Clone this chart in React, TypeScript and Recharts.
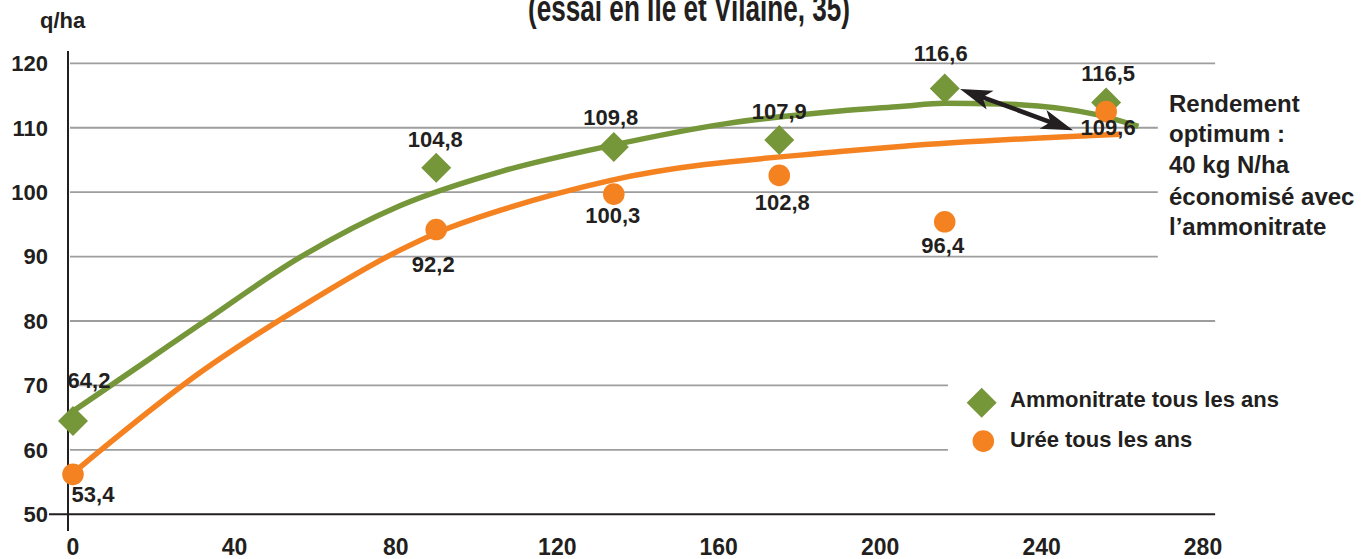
import { ComposedChart, Legend, Line, ReferenceLine, Scatter, XAxis, YAxis } from "recharts";

// doses d'azote (kg N/ha) et rendements (q/ha)
const DOSES = [0, 90, 134, 175, 216, 256];
const AMMONITRATE = [64.5, 103.8, 107.0, 108.1, 116.1, 113.9];
const UREE = [56.2, 94.2, 99.7, 102.6, 95.4, 112.5];
const AMMONITRATE_LABELS = ["64,2", "104,8", "109,8", "107,9", "116,6", "116,5"];
const UREE_LABELS = ["53,4", "92,2", "100,3", "102,8", "96,4", "109,6"];

// courbes de tendance, points lus le long des tracés
const TREND_AMMO_X = [0, 18, 31.5, 56, 81, 106, 133, 161.5, 190, 205, 216, 230, 254, 264];
const TREND_AMMO_Y = [66.0, 73.7, 79.5, 89.8, 97.9, 103.2, 107.2, 110.6, 112.6, 113.3, 113.8, 113.7, 112.0, 110.2];
const TREND_UREE_X = [0, 31.5, 56, 81, 91, 106, 133, 190, 205, 259.5];
const TREND_UREE_Y = [56.4, 72.0, 82.0, 91.0, 93.9, 97.2, 101.8, 106.3, 107.1, 109.0];

const X_TICKS = [0, 40, 80, 120, 160, 200, 240, 280];
const Y_TICKS = [50, 60, 70, 80, 90, 100, 110, 120];

const NAME_AMMO = "Ammonitrate tous les ans";
const NAME_UREE = "Urée tous les ans";

// flèche "rendement optimum" (coordonnées en données)
const ARROW_FROM = { x: 219.8, y: 116.0 };
const ARROW_TO = { x: 247.8, y: 109.6 };

const GREEN = "#76963a";
const ORANGE = "#f58220";
const TEXT = "#231f20";
const GRID = "#9d9d9d";
const FONT = '"Liberation Sans", Arial, Helvetica, sans-serif';

// longueur des lignes de quadrillage (coupées par la légende / l'annotation)
const GRID_END: Record<number, number> = { 120: 283, 110: 268.8, 100: 268.8, 90: 268.8, 80: 283, 70: 216.8, 60: 216.8 };

// décalage des étiquettes (dx, dy) par point
const AMMO_LABEL_NUDGE = [[16, -33], [-1, -21], [-3, -22], [0, -21], [-4, -27], [2, -22]];
const UREE_LABEL_NUDGE = [[20, 28], [-3, 42], [-1, 29], [3, 35], [-2, 31], [2, 23]];

const ammoRows = DOSES.map((x, i) => ({ x, y: AMMONITRATE[i], label: AMMONITRATE_LABELS[i], i }));
const ureeRows = DOSES.map((x, i) => ({ x, y: UREE[i], label: UREE_LABELS[i], i }));
const ammoTrend = TREND_AMMO_X.map((x, i) => ({ x, y: TREND_AMMO_Y[i] }));
const ureeTrend = TREND_UREE_X.map((x, i) => ({ x, y: TREND_UREE_Y[i] }));

const labelStyle = { fontFamily: FONT, fontSize: 22, fontWeight: 700, fill: TEXT };

function diamondPoints(cx: number, cy: number, r: number) {
  return `${cx},${cy - r} ${cx + r},${cy} ${cx},${cy + r} ${cx - r},${cy}`;
}

function AmmoShape(props: any) {
  const { cx, cy, payload } = props;
  const [dx, dy] = AMMO_LABEL_NUDGE[payload.i];
  return (
    <g>
      <polygon points={diamondPoints(cx, cy, 15)} fill={GREEN} />
      <text x={cx + dx} y={cy + dy} textAnchor="middle" {...labelStyle}>
        {payload.label}
      </text>
    </g>
  );
}

function UreeShape(props: any) {
  const { cx, cy, payload } = props;
  const [dx, dy] = UREE_LABEL_NUDGE[payload.i];
  return (
    <g>
      <circle cx={cx} cy={cy} r={10.8} fill={ORANGE} />
      <text x={cx + dx} y={cy + dy} textAnchor="middle" {...labelStyle}>
        {payload.label}
      </text>
    </g>
  );
}

function ArrowShape(props: any) {
  const { x1, y1, x2, y2 } = props;
  const len = Math.hypot(x2 - x1, y2 - y1);
  const ux = (x2 - x1) / len;
  const uy = (y2 - y1) / len;
  const nx = -uy;
  const ny = ux;
  const L = 32;
  const W = 10;
  const head = (tx: number, ty: number, s: number) => {
    const bx = tx + s * ux * L;
    const by = ty + s * uy * L;
    const mx = tx + s * ux * (L - 8);
    const my = ty + s * uy * (L - 8);
    return `${tx},${ty} ${bx + nx * W},${by + ny * W} ${mx},${my} ${bx - nx * W},${by - ny * W}`;
  };
  return (
    <g>
      <line
        x1={x1 + ux * (L - 10)}
        y1={y1 + uy * (L - 10)}
        x2={x2 - ux * (L - 10)}
        y2={y2 - uy * (L - 10)}
        stroke={TEXT}
        strokeWidth={4.5}
      />
      <polygon points={head(x1, y1, 1)} fill={TEXT} />
      <polygon points={head(x2, y2, -1)} fill={TEXT} />
    </g>
  );
}

function LegendContent({ payload }: any) {
  const items = (payload ?? []).filter((entry: any) => entry.value === NAME_AMMO || entry.value === NAME_UREE);
  return (
    <svg width={330} height={84} style={{ display: "block" }}>
      {items.map((entry: any, i: number) => {
        const cy = 22.7 + i * 38.4;
        return (
          <g key={entry.value}>
            {entry.value === NAME_AMMO ? (
              <polygon points={diamondPoints(21.7, cy, 15)} fill={GREEN} />
            ) : (
              <circle cx={23.3} cy={cy} r={10.8} fill={ORANGE} />
            )}
            <text x={50} y={26.7 + i * 40.6} {...labelStyle}>
              {entry.value}
            </text>
          </g>
        );
      })}
    </svg>
  );
}

export default function App() {
  return (
    <div style={{ position: "absolute", left: 0, top: 0, width: 1369, height: 559, background: "#fff" }}>
      <ComposedChart width={1369} height={559} margin={{ top: 51, right: 154, bottom: 0, left: 0 }}>
        <XAxis
          type="number"
          dataKey="x"
          domain={[-1.24, 282.97]}
          ticks={X_TICKS}
          axisLine={false}
          tickLine={false}
          height={28}
          tickMargin={2}
          tick={{ fill: TEXT, fontSize: 23, fontWeight: 700, fontFamily: FONT }}
        />
        <YAxis
          type="number"
          domain={[47.41, 121.91]}
          ticks={Y_TICKS}
          width={68}
          tickLine={false}
          tickMargin={14}
          axisLine={{ stroke: TEXT, strokeWidth: 2 }}
          tick={{ fill: TEXT, fontSize: 22, fontWeight: 700, fontFamily: FONT }}
        />
        {Y_TICKS.filter((t) => t > 50).map((t) => (
          <ReferenceLine
            key={t}
            segment={[
              { x: -0.75, y: t },
              { x: GRID_END[t], y: t },
            ]}
            stroke={GRID}
            strokeWidth={1.8}
            ifOverflow="visible"
          />
        ))}
        <ReferenceLine
          segment={[
            { x: -5.95, y: 50 },
            { x: 283, y: 50 },
          ]}
          stroke={TEXT}
          strokeWidth={2}
          ifOverflow="visible"
        />
        <Line
          data={ureeTrend}
          dataKey="y"
          type="monotone"
          stroke={ORANGE}
          strokeWidth={5.5}
          dot={false}
          activeDot={false}
          legendType="none"
          isAnimationActive={false}
        />
        <Line
          data={ammoTrend}
          dataKey="y"
          type="monotone"
          stroke={GREEN}
          strokeWidth={5.5}
          dot={false}
          activeDot={false}
          legendType="none"
          isAnimationActive={false}
        />
        <Scatter name={NAME_AMMO} data={ammoRows} dataKey="y" fill={GREEN} shape={AmmoShape} isAnimationActive={false} />
        <Scatter name={NAME_UREE} data={ureeRows} dataKey="y" fill={ORANGE} shape={UreeShape} isAnimationActive={false} />
        <ReferenceLine segment={[ARROW_FROM, ARROW_TO]} ifOverflow="visible" shape={ArrowShape} />
        <Legend
          layout="vertical"
          align="center"
          verticalAlign="middle"
          content={LegendContent}
          wrapperStyle={{ left: 960, top: 380, width: 330, height: 84, margin: 0 }}
        />
      </ComposedChart>
      <svg
        width={1369}
        height={559}
        style={{ position: "absolute", left: 0, top: 0, pointerEvents: "none" }}
      >
        <text
          x={689}
          y={21}
          textAnchor="middle"
          fontFamily={FONT}
          fontSize={36}
          fontWeight={700}
          fill={TEXT}
          textLength={322}
          lengthAdjust="spacingAndGlyphs"
        >
          (essai en Ile et Vilaine, 35)
        </text>
        <text x={40} y={28} fontFamily={FONT} fontSize={22} fontWeight={700} fill={TEXT}>
          q/ha
        </text>
        <text fontFamily={FONT} fontSize={24} fontWeight={700} fill={TEXT}>
          <tspan x={1169} y={112}>Rendement</tspan>
          <tspan x={1169} y={142}>optimum :</tspan>
          <tspan x={1169} y={173}>40 kg N/ha</tspan>
          <tspan x={1169} y={205}>économisé avec</tspan>
          <tspan x={1169} y={235}>l’ammonitrate</tspan>
        </text>
      </svg>
    </div>
  );
}
